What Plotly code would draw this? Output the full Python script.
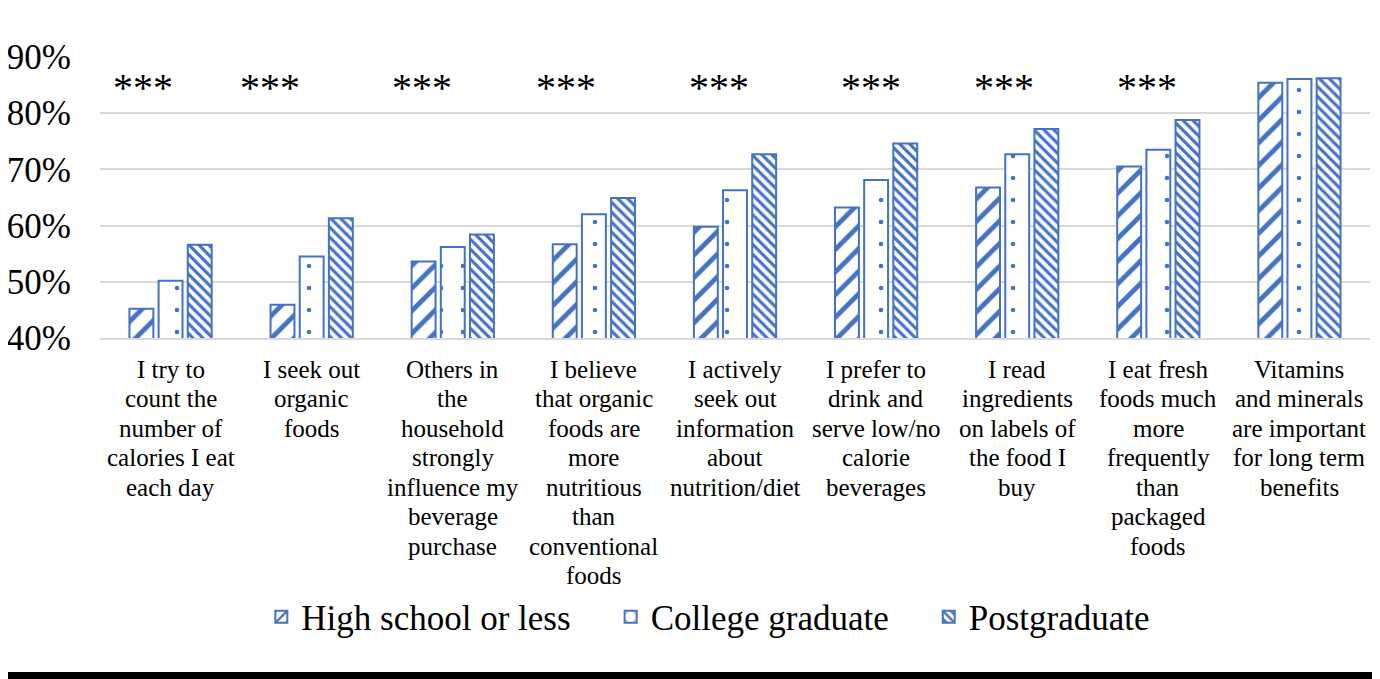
import plotly.graph_objects as go

categories = [
    "I try to<br>count the<br>number of<br>calories I eat<br>each day",
    "I seek out<br>organic<br>foods",
    "Others in<br>the<br>household<br>strongly<br>influence my<br>beverage<br>purchase",
    "I believe<br>that organic<br>foods are<br>more<br>nutritious<br>than<br>conventional<br>foods",
    "I actively<br>seek out<br>information<br>about<br>nutrition/diet",
    "I prefer to<br>drink and<br>serve low/no<br>calorie<br>beverages",
    "I read<br>ingredients<br>on labels of<br>the food I<br>buy",
    "I eat fresh<br>foods much<br>more<br>frequently<br>than<br>packaged<br>foods",
    "Vitamins<br>and minerals<br>are important<br>for long term<br>benefits",
]
series_names = ["High school or less", "College graduate", "Postgraduate"]
high_school = [45.2, 45.9, 53.6, 56.7, 59.8, 63.2, 66.8, 70.5, 85.4]
college = [50.2, 54.5, 56.2, 62.0, 66.3, 68.1, 72.7, 73.5, 86.1]
postgrad = [56.6, 61.3, 58.4, 64.9, 72.7, 74.6, 77.2, 78.8, 86.2]
significance = ["***", "***", "***", "***", "***", "***", "***", "***", ""]
y_ticks = [40, 50, 60, 70, 80, 90]

BLUE = "#4472C4"
SERIF = "Liberation Serif, Times New Roman, serif"
LINE_GAP = 29.5  # spacing of the wrapped category label lines (px)
PAD = "\u00a0" * 4  # widens the gap between legend entries

fig = go.Figure()
styles = [("/", 16, 0.3), (".", 22, 0.035), ("\\", 7, 0.45)]
for i, (name, values, (shape, size, solidity)) in enumerate(
        zip(series_names, [high_school, college, postgrad], styles)):
    label = name + (PAD if i < len(series_names) - 1 else "")
    fig.add_trace(go.Bar(
        name=label, x=categories, y=values,
        marker=dict(
            color="white",
            line=dict(color=BLUE, width=2),
            pattern=dict(shape=shape, fgcolor=BLUE, bgcolor="white", fgopacity=1,
                         size=size, solidity=solidity, fillmode="overlay"),
        ),
    ))

# category labels written line by line so the line spacing matches the original
for cat in categories:
    for i, line in enumerate(cat.split("<br>")):
        fig.add_annotation(x=cat, y=0, xref="x", yref="paper", text=line,
                           showarrow=False, yanchor="middle",
                           yshift=-(31 + i * LINE_GAP),
                           font=dict(family=SERIF, size=25, color="black"))

# star annotations sit slightly left of each group centre
star_shift = [-28, -42, -31, -28, -16, -5, -13, -11, 0]
for cat, txt, shift in zip(categories, significance, star_shift):
    if txt:
        fig.add_annotation(x=cat, y=84.6, text=txt, showarrow=False, xshift=shift,
                           font=dict(family=SERIF, size=40, color="black"))

# thick black rule along the bottom edge
fig.add_shape(type="line", xref="paper", yref="paper", x0=-0.1, x1=1.1,
              y0=-1.201, y1=-1.201, line=dict(color="black", width=7))

fig.update_layout(
    width=1372, height=671,
    margin=dict(l=92, r=10, t=49, b=341),
    paper_bgcolor="white", plot_bgcolor="white",
    barmode="group", bargap=0.38, bargroupgap=0.18,
    font=dict(family=SERIF, color="black"),
    showlegend=True,
    legend=dict(orientation="h", x=0.479, xanchor="center", y=-0.993, yanchor="middle",
                font=dict(size=35, family=SERIF), itemwidth=30),
)
fig.update_yaxes(range=[40, 90], tickvals=y_ticks, ticktext=[f"{v}%" for v in y_ticks],
                 tickfont=dict(size=35, family=SERIF), showgrid=True,
                 gridcolor="#D9D9D9", gridwidth=2, zeroline=False, ticks="",
                 ticklabelstandoff=28, automargin=False)
fig.update_xaxes(showticklabels=False, showline=True, linecolor="#D9D9D9",
                 linewidth=2, ticks="", automargin=False)

fig.write_html("out.html")
